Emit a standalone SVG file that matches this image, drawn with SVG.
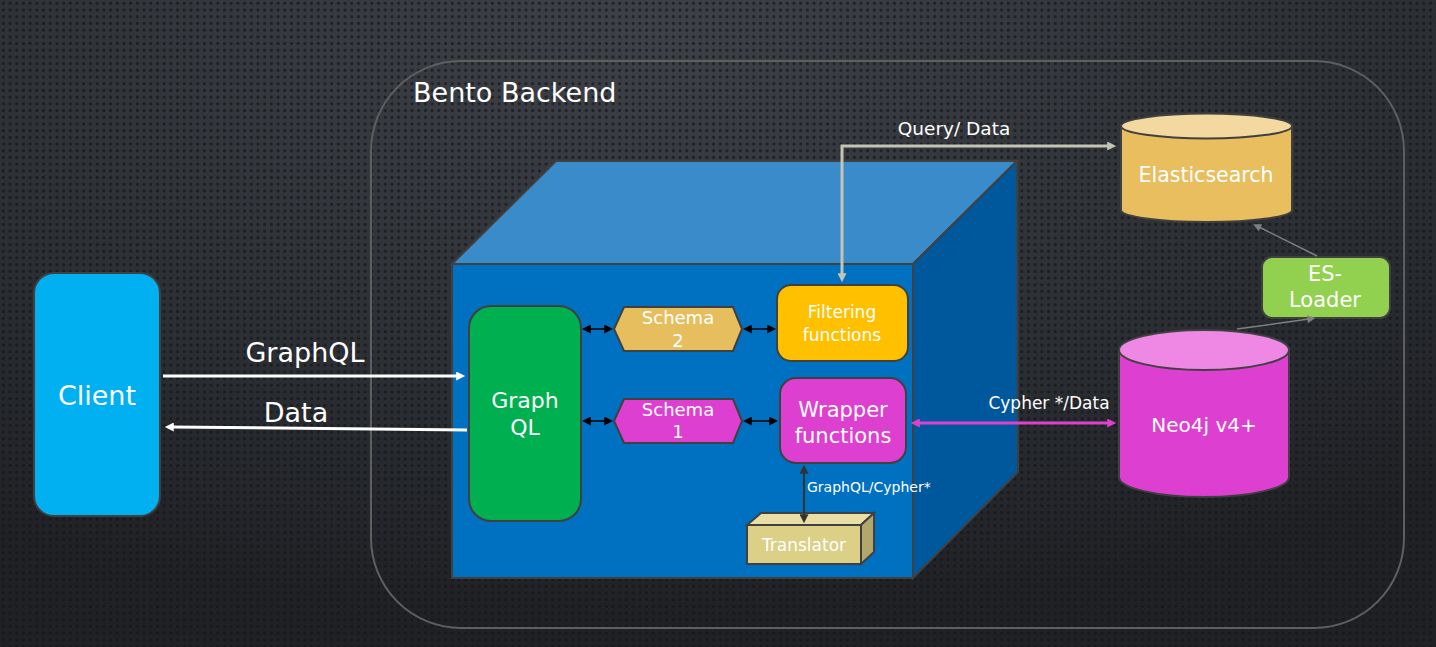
<svg xmlns="http://www.w3.org/2000/svg" width="1436" height="647" viewBox="0 0 1436 647">
<defs>
<radialGradient id="bg" cx="0.45" cy="0.05" r="0.9">
<stop offset="0" stop-color="#3e4248"/>
<stop offset="0.6" stop-color="#2c2f34"/>
<stop offset="1" stop-color="#1f2125"/>
</radialGradient>
<pattern id="dots" width="6.7" height="6.7" patternUnits="userSpaceOnUse">
<circle cx="3.35" cy="3.35" r="1.6" fill="#141518" fill-opacity="0.7"/>
</pattern>
<marker id="mw" viewBox="0 0 10 10" refX="2" refY="5" markerWidth="10" markerHeight="9" markerUnits="userSpaceOnUse" orient="auto-start-reverse"><path d="M0,0 L10,5 L0,10 z" fill="#ffffff"/></marker>
<marker id="mk" viewBox="0 0 10 10" refX="2" refY="5" markerWidth="9" markerHeight="9" markerUnits="userSpaceOnUse" orient="auto-start-reverse"><path d="M0,0 L10,5 L0,10 z" fill="#000000"/></marker>
<marker id="mg" viewBox="0 0 10 10" refX="2" refY="5" markerWidth="10" markerHeight="9" markerUnits="userSpaceOnUse" orient="auto-start-reverse"><path d="M0,0 L10,5 L0,10 z" fill="#c4c4b4"/></marker>
<marker id="mm" viewBox="0 0 10 10" refX="2" refY="5" markerWidth="10" markerHeight="9" markerUnits="userSpaceOnUse" orient="auto-start-reverse"><path d="M0,0 L10,5 L0,10 z" fill="#e040d0"/></marker>
<marker id="md" viewBox="0 0 10 10" refX="2" refY="5" markerWidth="9" markerHeight="9" markerUnits="userSpaceOnUse" orient="auto-start-reverse"><path d="M0,0 L10,5 L0,10 z" fill="#333333"/></marker>
<marker id="ms" viewBox="0 0 10 10" refX="2" refY="5" markerWidth="10" markerHeight="8" markerUnits="userSpaceOnUse" orient="auto-start-reverse"><path d="M0,0 L10,5 L0,10 z" fill="#808080"/></marker>
</defs>
<style>
text{font-family:"DejaVu Sans","Liberation Sans",sans-serif;fill:#ffffff;text-anchor:middle}
.shape{stroke:#404040;stroke-width:2}
.conn{fill:none}
</style>
<rect width="1436" height="647" fill="url(#bg)"/>
<rect width="1436" height="647" fill="url(#dots)"/>

<g id="bento-backend">
<rect x="371" y="61" width="1033" height="567" rx="90" ry="90" fill="none" stroke="#5f5f5f" stroke-width="2"/>
<text x="413" y="102" font-size="27" style="text-anchor:start">Bento Backend</text>
</g>

<g id="cube">
<polygon class="shape" points="452,264 556,161 1017,161 913,264" fill="#3a8bca"/>
<polygon class="shape" points="913,264 1017,161 1018,472 913,578" fill="#00589c"/>
<rect class="shape" x="452" y="264" width="461" height="314" fill="#0070c0"/>
</g>

<g id="client">
<rect class="shape" x="34" y="273" width="126" height="243" rx="20" fill="#00b0f0"/>
<text x="97" y="405" font-size="27">Client</text>
</g>

<g id="graphql">
<rect class="shape" x="469" y="306" width="112" height="215" rx="22" fill="#00b050"/>
<text x="525" y="408" font-size="22">Graph</text>
<text x="525" y="435" font-size="22">QL</text>
</g>

<g id="schema2">
<polygon class="shape" points="614,329 624,307 733,307 742,329 733,351 624,351" fill="#e6be5e"/>
<text x="678" y="324" font-size="18">Schema</text>
<text x="678" y="347" font-size="18">2</text>
</g>

<g id="schema1">
<polygon class="shape" points="614,421 624,399 733,399 742,421 733,443 624,443" fill="#dd3fd0"/>
<text x="678" y="416" font-size="18">Schema</text>
<text x="678" y="438" font-size="18">1</text>
</g>

<g id="filtering">
<rect class="shape" x="777" y="285" width="131" height="76" rx="14" fill="#ffc000"/>
<text x="842" y="318" font-size="17">Filtering</text>
<text x="842" y="341" font-size="17">functions</text>
</g>

<g id="wrapper">
<rect class="shape" x="780" y="378" width="126" height="85" rx="16" fill="#dd3fd0"/>
<text x="843" y="417" font-size="21">Wrapper</text>
<text x="843" y="443" font-size="21">functions</text>
</g>

<g id="translator">
<polygon class="shape" points="747,525 761,513 874,513 861,525" fill="#e8dea6"/>
<polygon class="shape" points="861,525 874,513 874,552 861,564" fill="#b3a86c"/>
<rect class="shape" x="747" y="525" width="114" height="39" fill="#dccf86"/>
<text x="804" y="551" font-size="17">Translator</text>
</g>

<g id="elasticsearch">
<path class="shape" d="M1121,126 L1121,210 A85.5,12 0 0 0 1292,210 L1292,126 Z" fill="#e8be5f"/>
<ellipse class="shape" cx="1206.5" cy="126" rx="85.5" ry="12.5" fill="#f3d9a0"/>
<text x="1206" y="182" font-size="20.5">Elasticsearch</text>
</g>

<g id="neo4j">
<path class="shape" d="M1119,350 L1119,477 A85,20 0 0 0 1289,477 L1289,350 Z" fill="#dd3fd0"/>
<ellipse class="shape" cx="1204" cy="350" rx="85" ry="20" fill="#ee88e4"/>
<text x="1204" y="432" font-size="20">Neo4j v4+</text>
</g>

<g id="es-loader">
<rect class="shape" x="1262" y="257" width="128" height="61" rx="10" fill="#92d050"/>
<text x="1325" y="281" font-size="21">ES-</text>
<text x="1325" y="307" font-size="21">Loader</text>
</g>

<g id="connectors">
<line class="conn" x1="163" y1="376" x2="458" y2="376" stroke="#ffffff" stroke-width="3" marker-end="url(#mw)"/>
<line class="conn" x1="467" y1="430" x2="172" y2="427" stroke="#ffffff" stroke-width="3" marker-end="url(#mw)"/>
<line class="conn" x1="589" y1="329" x2="606" y2="329" stroke="#000000" stroke-width="1.5" marker-start="url(#mk)" marker-end="url(#mk)"/>
<line class="conn" x1="750" y1="329" x2="769" y2="329" stroke="#000000" stroke-width="1.5" marker-start="url(#mk)" marker-end="url(#mk)"/>
<line class="conn" x1="589" y1="421" x2="606" y2="421" stroke="#000000" stroke-width="1.5" marker-start="url(#mk)" marker-end="url(#mk)"/>
<line class="conn" x1="750" y1="421" x2="771" y2="421" stroke="#000000" stroke-width="1.5" marker-start="url(#mk)" marker-end="url(#mk)"/>
<polyline class="conn" points="842,275 842,146 1109,146" stroke="#c4c4b4" stroke-width="3" marker-start="url(#mg)" marker-end="url(#mg)"/>
<line class="conn" x1="918" y1="423" x2="1109" y2="423" stroke="#e040d0" stroke-width="3" marker-start="url(#mm)" marker-end="url(#mm)"/>
<line class="conn" x1="804" y1="472" x2="804" y2="516" stroke="#333333" stroke-width="2" marker-start="url(#md)" marker-end="url(#md)"/>
<line class="conn" x1="1237" y1="329" x2="1309" y2="319" stroke="#808080" stroke-width="1.5" marker-end="url(#ms)"/>
<line class="conn" x1="1317" y1="256" x2="1259" y2="227" stroke="#808080" stroke-width="1.5" marker-end="url(#ms)"/>
<text x="305" y="362" font-size="27">GraphQL</text>
<text x="296" y="422" font-size="27">Data</text>
<text x="954" y="135" font-size="18.5">Query/ Data</text>
<text x="1049" y="409" font-size="17">Cypher */Data</text>
<text x="807" y="492" font-size="14" style="text-anchor:start">GraphQL/Cypher*</text>
</g>
</svg>
